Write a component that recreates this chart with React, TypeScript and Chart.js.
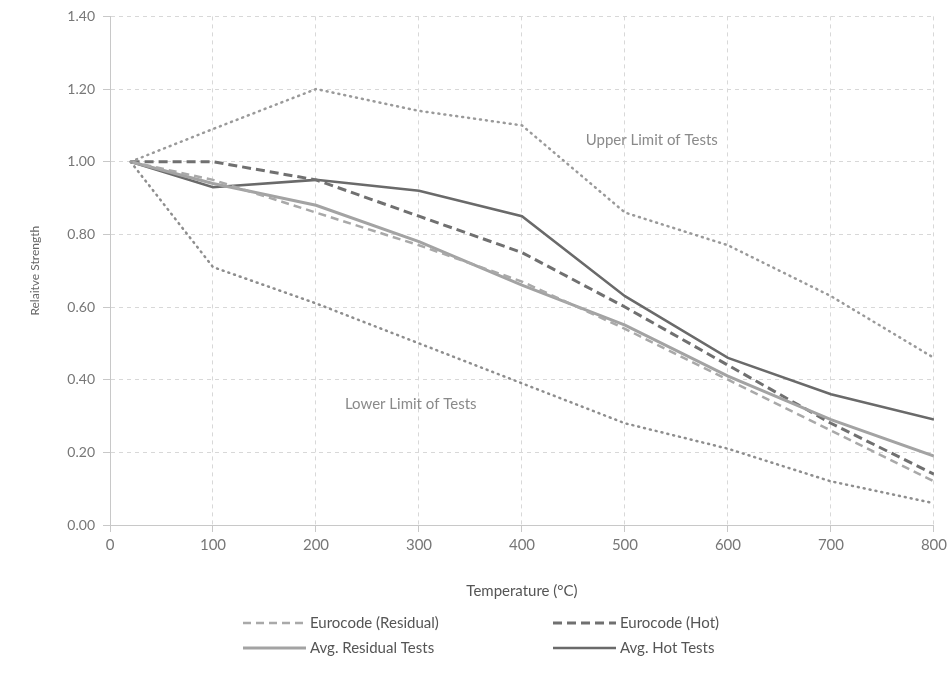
import React, { useEffect, useRef } from "react";
import { Chart, registerables } from "chart.js";

Chart.register(...registerables);

const temperatures = [20, 100, 200, 300, 400, 500, 600, 700, 800];
const eurocodeResidual = [1.0, 0.95, 0.86, 0.77, 0.67, 0.54, 0.4, 0.26, 0.12];
const eurocodeHot = [1.0, 1.0, 0.95, 0.85, 0.75, 0.6, 0.44, 0.28, 0.14];
const avgResidual = [1.0, 0.94, 0.88, 0.78, 0.66, 0.55, 0.41, 0.29, 0.19];
const avgHot = [1.0, 0.93, 0.95, 0.92, 0.85, 0.63, 0.46, 0.36, 0.29];
const upperLimit = [1.0, 1.09, 1.2, 1.14, 1.1, 0.86, 0.77, 0.63, 0.46];
const lowerLimit = [1.0, 0.71, 0.61, 0.5, 0.39, 0.28, 0.21, 0.12, 0.06];

const xTicks = [0, 100, 200, 300, 400, 500, 600, 700, 800];
const yTicks = [0, 0.2, 0.4, 0.6, 0.8, 1.0, 1.2, 1.4];

const legendLabels = ["Eurocode (Residual)", "Eurocode (Hot)", "Avg. Residual Tests", "Avg. Hot Tests"];
const annotations = [
  { text: "Upper Limit of Tests", x: 526, y: 1.06 },
  { text: "Lower Limit of Tests", x: 292, y: 0.333 },
];

const FONT = "Lato, 'Open Sans', sans-serif";

function pts(values: number[]) {
  return values.map((v, i) => ({ x: temperatures[i], y: v }));
}

const overlayPlugin = {
  id: "overlay",
  afterDraw(chart: any) {
    const ctx = chart.ctx;
    const xs = chart.scales.x;
    const ys = chart.scales.y;
    ctx.save();
    ctx.font = `15px ${FONT}`;
    ctx.fillStyle = "#8a8a8a";
    ctx.textAlign = "center";
    ctx.textBaseline = "middle";
    annotations.forEach((a) => {
      ctx.fillText(a.text, xs.getPixelForValue(a.x), ys.getPixelForValue(a.y));
    });

    // legend (2x2)
    const cols = [243, 553];
    const rows = [623, 648];
    const sampleLen = 63;
    legendLabels.forEach((label, i) => {
      const ds = chart.data.datasets.find((d: any) => d.label === label);
      if (!ds) return;
      const cx = cols[i % 2];
      const cy = rows[Math.floor(i / 2)];
      ctx.beginPath();
      ctx.strokeStyle = ds.borderColor;
      ctx.lineWidth = ds.borderWidth;
      ctx.setLineDash(ds.borderDash || []);
      ctx.moveTo(cx, cy);
      ctx.lineTo(cx + sampleLen, cy);
      ctx.stroke();
      ctx.setLineDash([]);
      ctx.font = `15px ${FONT}`;
      ctx.fillStyle = "#555";
      ctx.textAlign = "left";
      ctx.textBaseline = "middle";
      ctx.fillText(label, cx + sampleLen + 4, cy);
    });
    ctx.restore();
  },
};

export default function App() {
  const ref = useRef<HTMLCanvasElement | null>(null);
  useEffect(() => {
    document.body.style.margin = "0";
    if (!ref.current) return;
    const chart = new Chart(ref.current, {
      type: "line",
      data: {
        datasets: [
          {
            label: "Upper Limit of Tests",
            data: pts(upperLimit),
            borderColor: "#9a9a9a",
            borderWidth: 2.5,
            borderDash: [1, 5],
            borderCapStyle: "round",
            pointRadius: 0,
            fill: false,
          },
          {
            label: "Lower Limit of Tests",
            data: pts(lowerLimit),
            borderColor: "#8e8e8e",
            borderWidth: 2.5,
            borderDash: [1, 5],
            borderCapStyle: "round",
            pointRadius: 0,
            fill: false,
          },
          {
            label: "Eurocode (Residual)",
            data: pts(eurocodeResidual),
            borderColor: "#a9a9a9",
            borderWidth: 2.5,
            borderDash: [8, 5],
            pointRadius: 0,
            fill: false,
          },
          {
            label: "Avg. Residual Tests",
            data: pts(avgResidual),
            borderColor: "#a3a3a3",
            borderWidth: 3,
            pointRadius: 0,
            fill: false,
          },
          {
            label: "Eurocode (Hot)",
            data: pts(eurocodeHot),
            borderColor: "#707070",
            borderWidth: 3,
            borderDash: [9, 5],
            pointRadius: 0,
            fill: false,
          },
          {
            label: "Avg. Hot Tests",
            data: pts(avgHot),
            borderColor: "#6a6a6a",
            borderWidth: 2.5,
            pointRadius: 0,
            fill: false,
          },
        ],
      },
      options: {
        animation: false,
        responsive: false,
        maintainAspectRatio: false,
        layout: { padding: { top: 8, right: 10, bottom: 70, left: 0 } },
        plugins: {
          legend: { display: false },
          tooltip: { enabled: false },
        },
        scales: {
          x: {
            type: "linear",
            min: 0,
            max: 800,
            afterBuildTicks: (scale: any) => {
              scale.ticks = xTicks.map((v) => ({ value: v }));
            },
            afterFit: (scale: any) => {
              scale.height = 80;
            },
            ticks: {
              color: "#777",
              font: { family: FONT, size: 15 },
              padding: 4,
              maxRotation: 0,
            },
            grid: {
              color: "#d8d8d8",
              tickColor: "#c8c8c8",
              tickLength: 7,
              lineWidth: 1,
            },
            border: { color: "#c8c8c8", dash: [4, 4], display: true },
            title: {
              display: true,
              text: "Temperature (°C)",
              color: "#555",
              font: { family: FONT, size: 15 },
              padding: { top: 9, bottom: 5 },
            },
          },
          y: {
            type: "linear",
            min: 0,
            max: 1.4,
            afterBuildTicks: (scale: any) => {
              scale.ticks = yTicks.map((v) => ({ value: v }));
            },
            afterFit: (scale: any) => {
              scale.width = 110;
            },
            ticks: {
              color: "#777",
              font: { family: FONT, size: 14 },
              padding: 8,
              callback: (v: any) => Number(v).toFixed(2),
            },
            grid: {
              color: "#d8d8d8",
              tickColor: "#c8c8c8",
              tickLength: 7,
              lineWidth: 1,
            },
            border: { color: "#c8c8c8", dash: [4, 4], display: true },
            title: {
              display: true,
              text: "Relaitve Strength",
              color: "#666",
              font: { family: FONT, size: 12 },
              padding: { top: 28, bottom: 0 },
            },
          },
        },
      } as any,
      plugins: [overlayPlugin],
    });
    return () => chart.destroy();
  }, []);
  return (
    <div style={{ width: 951, height: 675, background: "#fff" }}>
      <canvas ref={ref} width={951} height={675} style={{ display: "block" }} />
    </div>
  );
}
